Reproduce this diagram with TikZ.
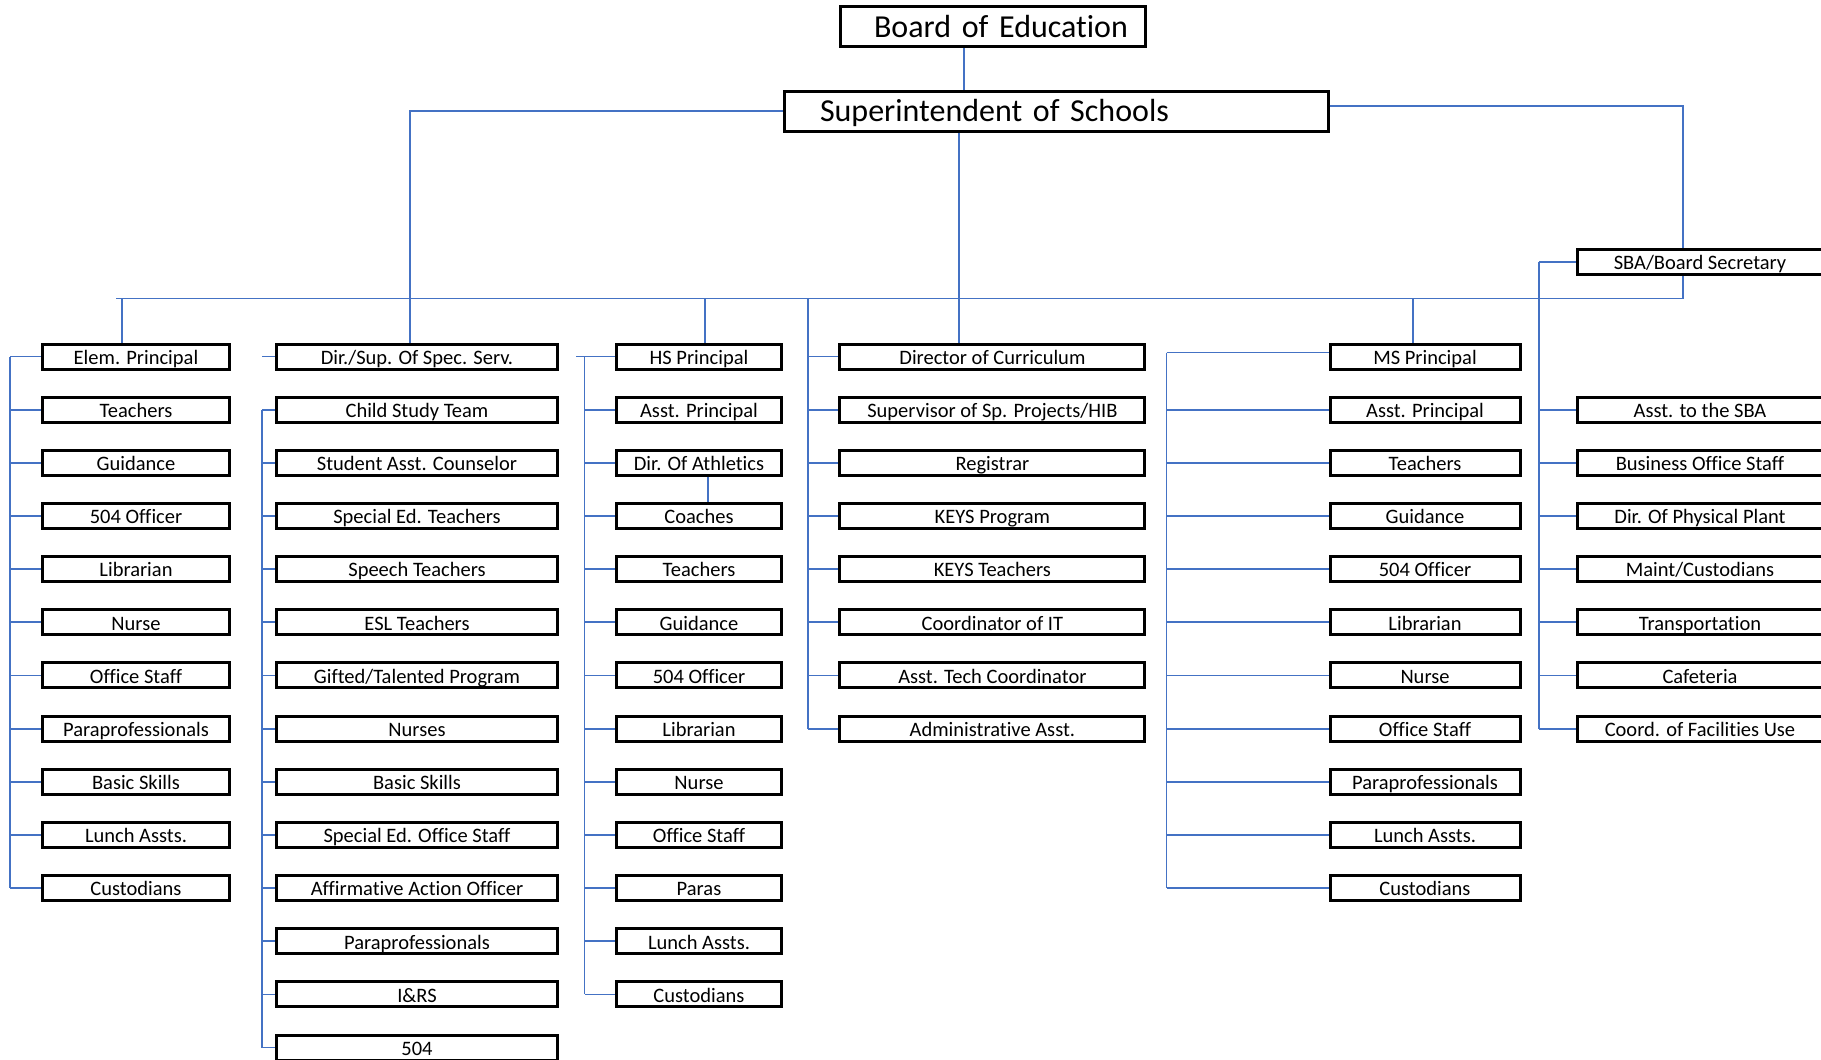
\documentclass[tikz,border=0pt]{standalone}
\usepackage{fontspec}
\setmainfont{Carlito}[Ligatures=NoCommon]
\definecolor{linkblue}{RGB}{68,114,196}

\begin{document}
\begin{tikzpicture}[x=1pt,y=-1pt,
    box/.style={draw=black,line width=3pt,inner sep=0pt,minimum height=25pt,
      text height=16.8pt,text depth=1.2pt,
      font=\fontsize{20.5}{24}\selectfont},
    topbox/.style={draw=black,line width=3pt,inner sep=0pt,align=left,
      text height=24.5pt,text depth=3.5pt,
      font=\fontsize{32}{38}\selectfont},
    link/.style={draw=linkblue,line width=1.8pt}]
  \useasboundingbox (0,0) rectangle (1821,1060);

  \node[topbox,text width=305pt,minimum height=40pt] (brd) at (992.5,26.5)
    {\hspace*{34pt}Board of Education};
  \node[topbox,text width=544pt,minimum height=40pt] (sup) at (1056,111)
    {\hspace*{36pt}Superintendent of Schools};

  \foreach \t [count=\i from 0] in {Elem. Principal,Teachers,Guidance,
      504 Officer,Librarian,Nurse,Office Staff,Paraprofessionals,
      Basic Skills,Lunch Assts.,Custodians}
    \node[box,minimum width=187.5pt] (e\i) at (136,356.5+53.16*\i) {\t};
  \foreach \t [count=\i from 0] in {Dir./Sup. Of Spec. Serv.,Child Study Team,
      Student Asst. Counselor,Special Ed. Teachers,Speech Teachers,
      ESL Teachers,Gifted/Talented Program,Nurses,Basic Skills,
      Special Ed. Office Staff,Affirmative Action Officer,Paraprofessionals,
      I\&RS,504}
    \node[box,minimum width=281pt] (s\i) at (417,356.5+53.16*\i) {\t};
  \foreach \t [count=\i from 0] in {HS Principal,Asst. Principal,
      Dir. Of Athletics,Coaches,Teachers,Guidance,504 Officer,Librarian,
      Nurse,Office Staff,Paras,Lunch Assts.,Custodians}
    \node[box,minimum width=165pt] (h\i) at (699,356.5+53.16*\i) {\t};
  \foreach \t [count=\i from 0] in {Director of Curriculum,
      Supervisor of Sp. Projects/HIB,Registrar,KEYS Program,KEYS Teachers,
      Coordinator of IT,Asst. Tech Coordinator,Administrative Asst.}
    \node[box,minimum width=305pt] (c\i) at (992.4,356.5+53.16*\i) {\t};
  \foreach \t [count=\i from 0] in {MS Principal,Asst. Principal,Teachers,
      Guidance,504 Officer,Librarian,Nurse,Office Staff,Paraprofessionals,
      Lunch Assts.,Custodians}
    \node[box,minimum width=190pt] (m\i) at (1425,356.5+53.16*\i) {\t};
  \node[box,minimum width=245pt] (b0) at (1700,262) {SBA/Board Secretary};
  \foreach \t [count=\i from 1] in {Asst. to the SBA,Business Office Staff,
      Dir. Of Physical Plant,Maint/Custodians,Transportation,Cafeteria,
      Coord. of Facilities Use}
    \node[box,minimum width=245pt] (b\i) at (1700,356.5+53.16*\i) {\t};

  \coordinate (busL) at (116,298.5);
  \coordinate (busR) at (1683,298.5);
  \coordinate (espine) at (10,0);
  \coordinate (sspine) at (262,0);
  \coordinate (hlead) at (576,0);
  \coordinate (hspine) at (584.5,0);
  \coordinate (cspine) at (808,0);
  \coordinate (mspine) at (1166.5,0);
  \coordinate (bspine) at (1539,0);

  \draw[link] ([xshift=-28.5pt]brd.south) -- ([xshift=-28.5pt]brd.south |- sup.north);
  \draw[link] (sup.west) -| ([xshift=-7pt]s0.north);
  \draw[link] ([yshift=5pt]sup.east) -| ([xshift=-17pt]b0.north);
  \draw[link] ([xshift=-17pt]b0.south) -- (busR);
  \draw[link] ([xshift=-97pt]sup.south) -- ([xshift=-97pt]sup.south |- c0.north);
  \draw[link] (busL) -- (busR);
  \draw[link] ([xshift=-14pt]e0.north) -- ([xshift=-14pt]e0.north |- busL);
  \draw[link] ([xshift=6pt]h0.north) -- ([xshift=6pt]h0.north |- busL);
  \draw[link] ([xshift=-12pt]m0.north) -- ([xshift=-12pt]m0.north |- busL);
  \draw[link] ([xshift=9pt]h2.south) -- ([xshift=9pt]h3.north);

  \draw[link] (e0.west -| espine) -- (e10.west -| espine);
  \foreach \i in {0,...,10}
    \draw[link] (e\i.west -| espine) -- (e\i.west);
  \draw[link] (s0.west) -- (s0.west -| sspine);
  \draw[link] (s1.west -| sspine) -- (s13.west -| sspine);
  \foreach \i in {1,...,13}
    \draw[link] (s\i.west -| sspine) -- (s\i.west);
  \draw[link] (h0.west) -- (h0.west -| hlead);
  \draw[link] (h0.west -| hspine) -- (h12.west -| hspine);
  \foreach \i in {1,...,12}
    \draw[link] (h\i.west -| hspine) -- (h\i.west);
  \draw[link] (cspine |- busL) -- (c7.west -| cspine);
  \foreach \i in {0,...,7}
    \draw[link] (c\i.west -| cspine) -- (c\i.west);
  \draw[link] ([yshift=4pt]m0.west -| mspine) -- (m10.west -| mspine);
  \draw[link] ([yshift=4pt]m0.west -| mspine) -- ([yshift=4pt]m0.west);
  \foreach \i in {1,...,10}
    \draw[link] (m\i.west -| mspine) -- (m\i.west);
  \draw[link] (b0.west -| bspine) -- (b7.west -| bspine);
  \foreach \i in {0,...,7}
    \draw[link] (b\i.west -| bspine) -- (b\i.west);
\end{tikzpicture}
\end{document}
